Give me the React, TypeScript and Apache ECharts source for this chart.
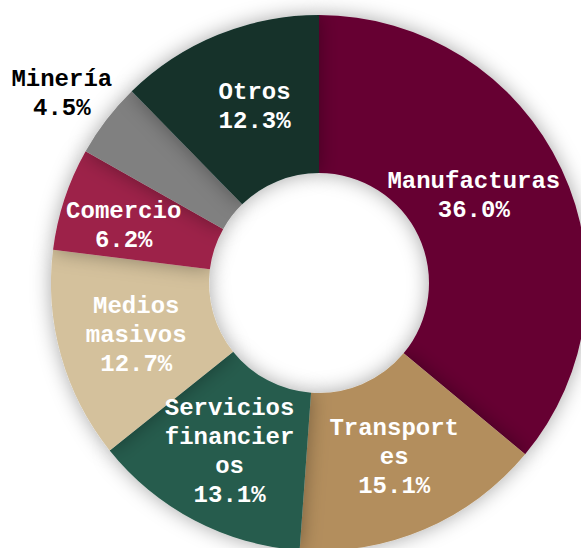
import React, { useEffect, useRef } from "react";
import * as echarts from "echarts";

const categories = [
  "Manufacturas",
  "Transportes",
  "Servicios financieros",
  "Medios masivos",
  "Comercio",
  "Minería",
  "Otros",
];
const values = [36.0, 15.1, 13.1, 12.7, 6.2, 4.5, 12.3];
const labelTexts = [
  "Manufacturas",
  "Transport\nes",
  "Servicios\nfinancier\nos",
  "Medios\nmasivos",
  "Comercio",
  "Minería",
  "Otros",
];
const colors = ["#660033", "#B38E5D", "#285C4D", "#D4C19C", "#9D2449", "#808080", "#13322B"];
const labelColors = ["#fff", "#fff", "#fff", "#fff", "#fff", "#000", "#fff"];
const labelShift: [number, number][] = [
  [-19, -5],
  [0, -2],
  [0, -1],
  [2, 0],
  [-13, 3],
  [-105, -72],
  [8, 2],
];

export default function App() {
  const ref = useRef<HTMLDivElement>(null);
  useEffect(() => {
    if (!ref.current) return;
    const chart = echarts.init(ref.current, undefined, { renderer: "svg" });
    chart.setOption({
      animation: false,
      series: [
        {
          type: "pie",
          center: [319, 283],
          radius: [110, 268],
          startAngle: 90,
          clockwise: true,
          avoidLabelOverlap: false,
          itemStyle: {
            shadowBlur: 20,
            shadowColor: "rgba(0,0,0,0.35)",
          },
          label: {
            show: true,
            position: "inside",
            fontFamily: "'Liberation Mono', 'Courier New', monospace",
            fontWeight: "bold",
            fontSize: 24,
            lineHeight: 29,
            align: "center",
          },
          labelLine: { show: false },
          emphasis: { disabled: true },
          labelLayout: (p: any) => ({
            dx: labelShift[p.dataIndex][0],
            dy: labelShift[p.dataIndex][1],
          }),
          data: categories.map((name, i) => ({
            name,
            value: values[i],
            itemStyle: { color: colors[i] },
            label: {
              color: labelColors[i],
              formatter: () => labelTexts[i] + "\n" + values[i].toFixed(1) + "%",
            },
          })),
        },
      ],
    });
    return () => chart.dispose();
  }, []);
  return (
    <div
      ref={ref}
      style={{ position: "absolute", left: 0, top: 0, width: 581, height: 548 }}
    />
  );
}
